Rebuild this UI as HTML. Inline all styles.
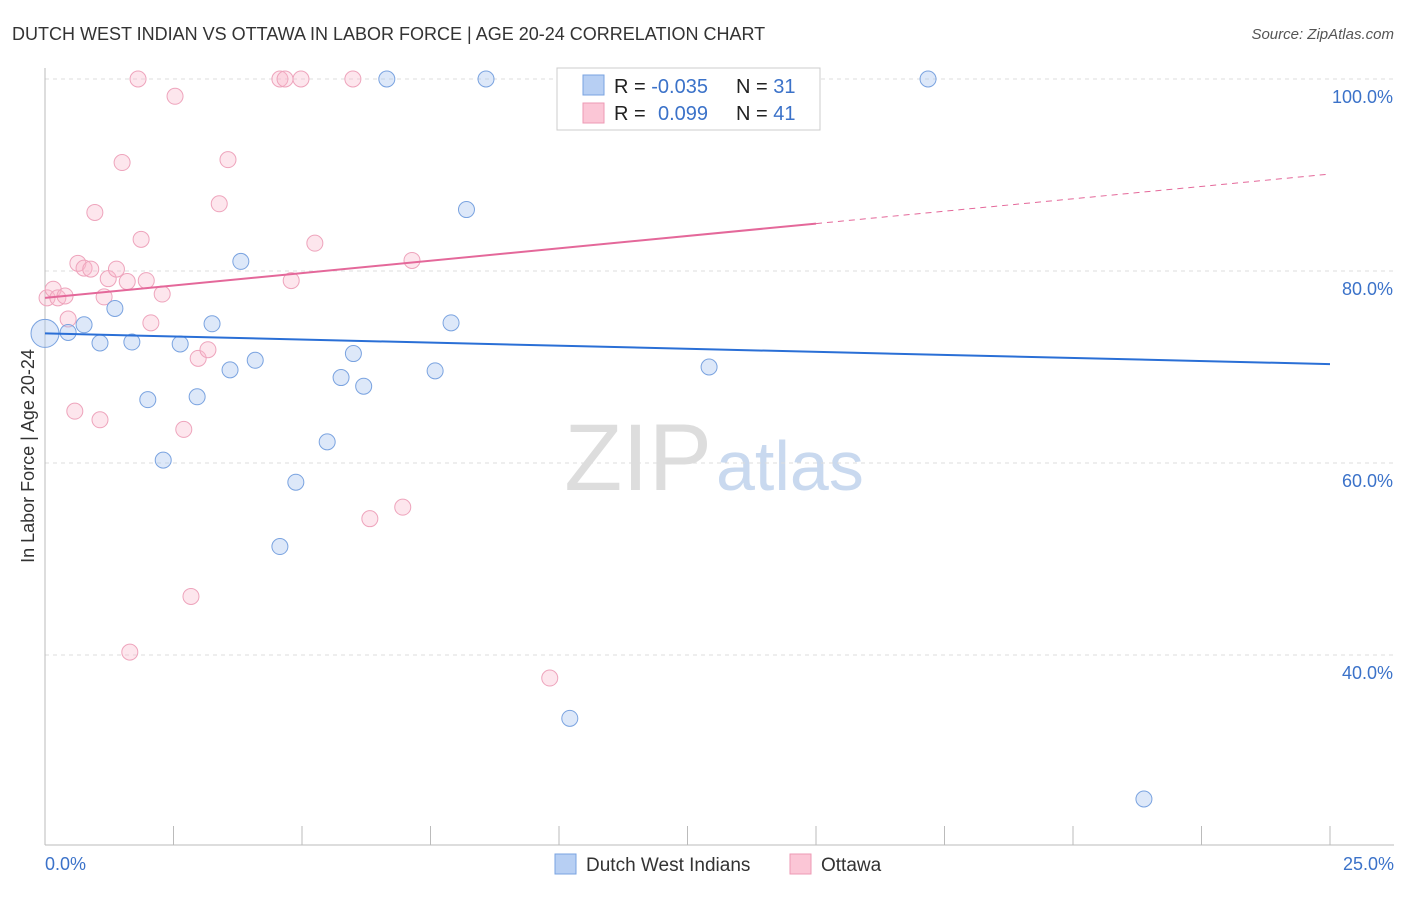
<!DOCTYPE html>
<html><head><meta charset="utf-8"><style>
body{margin:0;background:#fff;font-family:"Liberation Sans",sans-serif;}
svg text{font-family:"Liberation Sans",sans-serif;}
</style></head><body>
<svg id="c" width="1406" height="892">
<text x="12" y="40" font-size="18" fill="#333">DUTCH WEST INDIAN VS OTTAWA IN LABOR FORCE | AGE 20-24 CORRELATION CHART</text>
<text x="1394" y="39" font-size="15" fill="#555" text-anchor="end" font-style="italic">Source: ZipAtlas.com</text>
<text x="712" y="490" font-size="95" fill="#ddd" text-anchor="end" font-family="Liberation Serif">ZIP</text>
<text x="716" y="490" font-size="70" fill="#c9d9ef">atlas</text>
<g id="grid"></g>
<g id="pts"></g>
<g id="lines"></g>
<text transform="translate(34,456) rotate(-90)" font-size="18" fill="#333" text-anchor="middle">In Labor Force | Age 20-24</text>
<text x="45" y="870" font-size="18" fill="#3b72c9">0.0%</text>
<text x="1394" y="870" font-size="18" fill="#3b72c9" text-anchor="end">25.0%</text>
<g>
<rect x="557" y="68" width="263" height="62" fill="#fff" stroke="#ccc"/>
<rect x="583" y="75" width="21" height="20" fill="#b7cff3" stroke="#7aa3e0"/>
<rect x="583" y="103" width="21" height="20" fill="#fbc6d6" stroke="#ee9ab4"/>
<text x="614" y="93" font-size="20" fill="#222">R = <tspan fill="#3b72c9">-0.035</tspan><tspan x="736">N = </tspan><tspan fill="#3b72c9">31</tspan></text>
<text x="614" y="120" font-size="20" fill="#222">R = <tspan x="658" fill="#3b72c9">0.099</tspan><tspan x="736">N = </tspan><tspan fill="#3b72c9">41</tspan></text>
</g>
<g>
<rect x="555" y="854" width="21" height="20" fill="#b7cff3" stroke="#7aa3e0"/>
<text x="586" y="871" font-size="19" fill="#333">Dutch West Indians</text>
<rect x="790" y="854" width="21" height="20" fill="#fbc6d6" stroke="#ee9ab4"/>
<text x="821" y="871" font-size="19" fill="#333">Ottawa</text>
</g>
</svg>
<script>
const yTicks=[100,80,60,40];
const yTickLabels=["100.0%","80.0%","60.0%","40.0%"];
const blueX=[0.0,0.45,0.76,1.07,1.36,1.69,2.0,2.3,2.63,2.96,3.25,3.6,3.81,4.09,4.57,4.88,5.49,5.76,6.0,6.2,6.65,7.59,7.9,8.2,8.58,10.21,12.92,13.46,17.18,21.38];
const blueY=[73.5,73.6,74.4,72.5,76.1,72.6,66.6,60.3,72.4,66.9,74.5,69.7,81.0,70.7,51.3,58.0,62.2,68.9,71.4,68.0,100,69.6,74.6,86.4,100,33.4,70.0,100,100,25.0];
const pinkX=[0.04,0.16,0.25,0.39,0.45,0.58,0.64,0.76,0.89,0.97,1.07,1.15,1.23,1.39,1.5,1.6,1.65,1.81,1.87,1.97,2.06,2.28,2.53,2.7,2.84,2.98,3.17,3.39,3.56,4.57,4.67,4.79,4.98,5.25,5.99,6.32,6.96,7.14,9.82,11.5,11.81];
const pinkY=[77.2,78.1,77.2,77.4,75.0,65.4,80.8,80.3,80.2,86.1,64.5,77.3,79.2,80.2,91.3,78.9,40.3,100,83.3,79.0,74.6,77.6,98.2,63.5,46.1,70.9,71.8,87.0,91.6,100,100,79.0,100,82.9,100,54.2,55.4,81.1,37.6,100,100];
const blueLine=[73.5,70.3], pinkLine=[77.2,90.1];
const X=v=>45+v*51.4, Y=v=>79+(100-v)*9.6;
const ns="http://www.w3.org/2000/svg";
function mk(t,a,p){const e=document.createElementNS(ns,t);for(const k in a)e.setAttribute(k,a[k]);p.appendChild(e);return e;}
const g=document.getElementById('grid');
yTicks.forEach((v,i)=>{
 const l=mk('line',{x1:45,x2:1394,y1:Y(v),y2:Y(v),stroke:'#ddd','stroke-dasharray':'4,4'},g);
 
 
 const t=mk('text',{x:1393,y:Y(v)+24,'font-size':18,fill:'#3b72c9','text-anchor':'end'},g);
 t.textContent=yTickLabels[i];
 
 
});
const ax=mk('line',{x1:45,x2:45,y1:68,y2:845,stroke:'#bbb'},g);


const bx=mk('line',{x1:45,x2:1394,y1:845,y2:845,stroke:'#bbb'},g);


for(let i=1;i<=10;i++){const t=mk('line',{x1:X(i*2.5),x2:X(i*2.5),y1:826,y2:845,stroke:'#bbb'},g);
 
 }
const p=document.getElementById('pts');
pinkX.forEach((x,i)=>{const c=mk('circle',{cx:X(x),cy:Y(pinkY[i]),r:8,fill:'rgba(248,182,203,0.35)',stroke:'#eea4bc','stroke-width':1},p);
 
 });
blueX.forEach((x,i)=>{const c=mk('circle',{cx:X(x),cy:Y(blueY[i]),r:i==0?14:8,fill:'rgba(170,198,240,0.4)',stroke:'#7aa3e0','stroke-width':1},p);
 
 });
const L=document.getElementById('lines');
const b=mk('line',{x1:X(0),y1:Y(blueLine[0]),x2:X(25),y2:Y(blueLine[1]),stroke:'#2a6fd6','stroke-width':2},L);


const pm=pinkLine[0]+(pinkLine[1]-pinkLine[0])*15/25;
const ps=mk('line',{x1:X(0),y1:Y(pinkLine[0]),x2:X(15),y2:Y(pm),stroke:'#e4689a','stroke-width':2},L);


const pd=mk('line',{x1:X(15),y1:Y(pm),x2:X(25),y2:Y(pinkLine[1]),stroke:'#e4689a','stroke-width':1,'stroke-dasharray':'6,5'},L);


</script>
</body></html>
